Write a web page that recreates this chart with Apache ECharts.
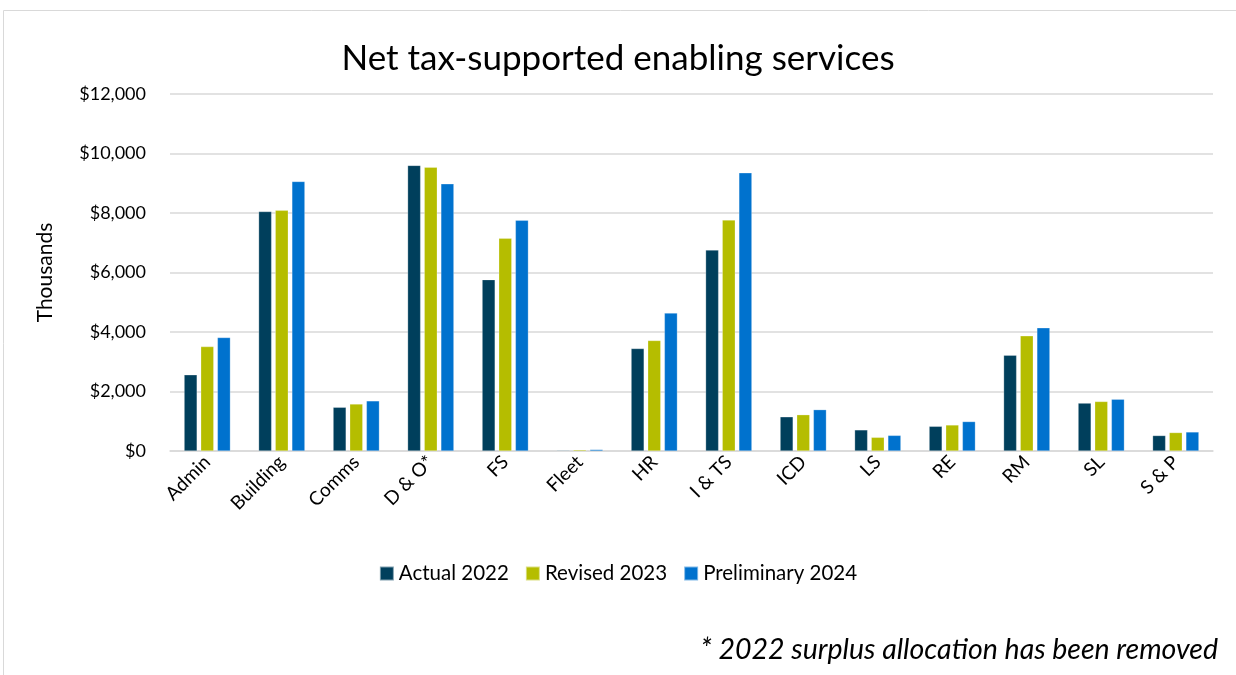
<!DOCTYPE html>
<html><head><meta charset="utf-8">
<script src="https://cdn.jsdelivr.net/npm/echarts@6/dist/echarts.min.js"></script>
<style>html,body{margin:0;padding:0;background:#fff}#c{width:1236px;height:675px}</style>
</head><body><div id="c"></div>
<script>
const categories = ['Admin','Building','Comms','D & O*','FS','Fleet','HR','I & TS','ICD','LS','RE','RM','SL','S & P'];
const actual2022 = [2560, 8050, 1470, 9600, 5760, 25, 3445, 6755, 1150, 710, 830, 3220, 1610, 520];
const revised2023 = [3510, 8090, 1580, 9540, 7150, 40, 3715, 7765, 1220, 460, 875, 3870, 1665, 620];
const prelim2024 = [3815, 9060, 1685, 8980, 7755, 50, 4635, 9350, 1390, 525, 990, 4140, 1740, 640];
const yTicks = [0, 2000, 4000, 6000, 8000, 10000, 12000];

const FONT = 'Lato';
const chart = echarts.init(document.getElementById('c'));
const barStyle = c => ({color: c, borderColor: 'rgba(255,255,255,0.5)', borderWidth: 0.5});
chart.setOption({
  animation: false,
  textStyle: {fontFamily: FONT},
  title: {text: 'Net tax-supported enabling services', left: 'center', top: 36,
    textStyle: {fontFamily: FONT, fontSize: 35, fontWeight: 'normal', color: '#000'}},
  graphic: [
    {type: 'rect', shape: {x: 3.5, y: 10.5, width: 1240, height: 680}, style: {fill: 'none', stroke: '#d9d9d9', lineWidth: 1}},
    {type: 'text', right: 18, top: 635, style: {text: '* 2022 surplus allocation has been removed',
      font: 'italic 28.5px ' + FONT, fill: '#000'}}
  ],
  legend: {bottom: 86, left: 'center', itemWidth: 14, itemHeight: 14, itemGap: 16,
    textStyle: {fontFamily: FONT, fontSize: 20.5, color: '#000'}, icon: 'rect'},
  grid: {left: 170, right: 23, top: 94, bottom: 224},
  xAxis: {type: 'category', data: categories,
    axisLine: {lineStyle: {color: '#d9d9d9', width: 1.5}}, axisTick: {show: false},
    axisLabel: {rotate: 45, fontSize: 19, color: '#000', fontFamily: FONT, margin: 8, interval: 0}},
  yAxis: {type: 'value', min: 0, max: 12000, interval: 2000,
    name: 'Thousands', nameLocation: 'middle', nameGap: 114, nameRotate: 90,
    nameTextStyle: {fontSize: 21, color: '#000', fontFamily: FONT},
    axisLabel: {fontSize: 18, color: '#000', fontFamily: FONT, margin: 24,
      formatter: v => '$' + v.toLocaleString('en-US')},
    splitLine: {lineStyle: {color: '#d9d9d9', width: 1.5}},
    axisLine: {show: false}, axisTick: {show: false}},
  series: [
    {name: 'Actual 2022', type: 'bar', data: actual2022, barWidth: 13, barGap: '28%', itemStyle: barStyle('#003F5C')},
    {name: 'Revised 2023', type: 'bar', data: revised2023, barWidth: 13, barGap: '28%', itemStyle: barStyle('#B5BD00')},
    {name: 'Preliminary 2024', type: 'bar', data: prelim2024, barWidth: 13, barGap: '28%', itemStyle: barStyle('#0072CE')}
  ]
});
</script></body></html>
